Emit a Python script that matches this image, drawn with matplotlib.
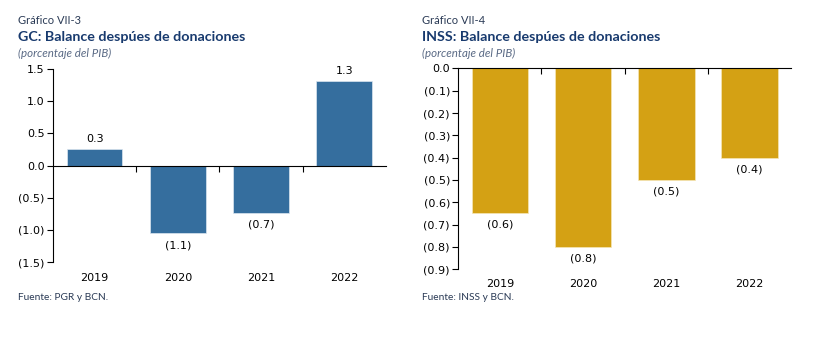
import matplotlib
matplotlib.use('Agg')
import matplotlib.pyplot as plt
import matplotlib.transforms as mtransforms
from matplotlib.ticker import FuncFormatter

# datos
años = ['2019', '2020', '2021', '2022']
gc_valores = [0.25, -1.05, -0.73, 1.31]
gc_etiquetas = ['0.3', '(1.1)', '(0.7)', '1.3']
inss_valores = [-0.647, -0.80, -0.50, -0.40]
inss_etiquetas = ['(0.6)', '(0.8)', '(0.5)', '(0.4)']

azul = '#356E9E'
oro = '#D4A114'
color_titulo = '#183A6E'
color_texto = '#2A3A55'


def formato(v, pos):
    if abs(v) < 1e-9:
        return '0.0'
    if v < 0:
        return '(%.1f)' % abs(v)
    return '%.1f' % v


fig = plt.figure(figsize=(8.15, 3.58), dpi=100)

# --- Gráfico VII-3 ---
ax1 = fig.add_axes([0.065, 0.268, 0.4085, 0.539])
x = range(len(años))
ax1.bar(x, gc_valores, width=0.67, color=azul, edgecolor='#DCE6F0', linewidth=0.5, zorder=2)
ax1.set_xlim(-0.5, 3.5)
ax1.set_ylim(-1.5, 1.5)
ax1.set_yticks([1.5, 1.0, 0.5, 0.0, -0.5, -1.0, -1.5])
ax1.yaxis.set_major_formatter(FuncFormatter(formato))
ax1.spines['top'].set_visible(False)
ax1.spines['right'].set_visible(False)
ax1.spines['bottom'].set_position(('data', 0))
ax1.set_xticks([0.5, 1.5, 2.5])
ax1.set_xticklabels([])
ax1.tick_params(axis='x', direction='out', length=4, width=0.8)
ax1.tick_params(axis='y', direction='out', length=4, width=0.8, labelsize=8, pad=2)
for i, (v, t) in enumerate(zip(gc_valores, gc_etiquetas)):
    if v >= 0:
        ax1.annotate(t, (i, v), xytext=(0, 4), textcoords='offset points', ha='center', va='bottom', fontsize=8)
    else:
        ax1.annotate(t, (i, v), xytext=(0, -5), textcoords='offset points', ha='center', va='top', fontsize=8)
trans1 = mtransforms.blended_transform_factory(ax1.transData, ax1.transAxes)
for i, a in enumerate(años):
    ax1.text(i, -0.083, a, transform=trans1, ha='center', va='center', fontsize=8)

# --- Gráfico VII-4 ---
ax2 = fig.add_axes([0.5623, 0.2478, 0.4083, 0.5612])
ax2.bar(x, inss_valores, width=0.68, color=oro, edgecolor='#F5E6B8', linewidth=0.5, zorder=2)
ax2.set_xlim(-0.5, 3.5)
ax2.set_ylim(-0.9, 0.0)
ax2.set_yticks([0.0, -0.1, -0.2, -0.3, -0.4, -0.5, -0.6, -0.7, -0.8, -0.9])
ax2.yaxis.set_major_formatter(FuncFormatter(formato))
ax2.spines['bottom'].set_visible(False)
ax2.spines['right'].set_visible(False)
ax2.xaxis.set_ticks_position('top')
ax2.set_xticks([0.5, 1.5, 2.5])
ax2.set_xticklabels([])
ax2.tick_params(axis='x', direction='in', length=4, width=0.8)
ax2.tick_params(axis='y', direction='out', length=4, width=0.8, labelsize=8, pad=2)
for i, (v, t) in enumerate(zip(inss_valores, inss_etiquetas)):
    ax2.annotate(t, (i, v), xytext=(0, -5), textcoords='offset points', ha='center', va='top', fontsize=8)
trans2 = mtransforms.blended_transform_factory(ax2.transData, ax2.transAxes)
for i, a in enumerate(años):
    ax2.text(i, -0.073, a, transform=trans2, ha='center', va='center', fontsize=8)

# títulos y fuentes
for x0, num, tit, fuente in [(18, 'VII-3', 'GC: Balance despúes de donaciones', 'Fuente: PGR y BCN.'),
                             (422, 'VII-4', 'INSS: Balance despúes de donaciones', 'Fuente: INSS y BCN.')]:
    fx = x0 / 815
    fig.text(fx, 1 - 20 / 358, 'Gráfico ' + num, fontsize=8, color=color_texto, family='Lato', va='center')
    fig.text(fx, 1 - 37 / 358, tit, fontsize=10.3, color=color_titulo, family='Lato', weight='bold', va='center')
    fig.text(fx, 1 - 53 / 358, '(porcentaje del PIB)', fontsize=8.3, color='#5A6A85', family='Lato', style='italic', va='center')
    fig.text(fx, 1 - 297 / 358, fuente, fontsize=7.3, color=color_texto, family='Lato', va='center')

fig.savefig('out.png', dpi=100)
